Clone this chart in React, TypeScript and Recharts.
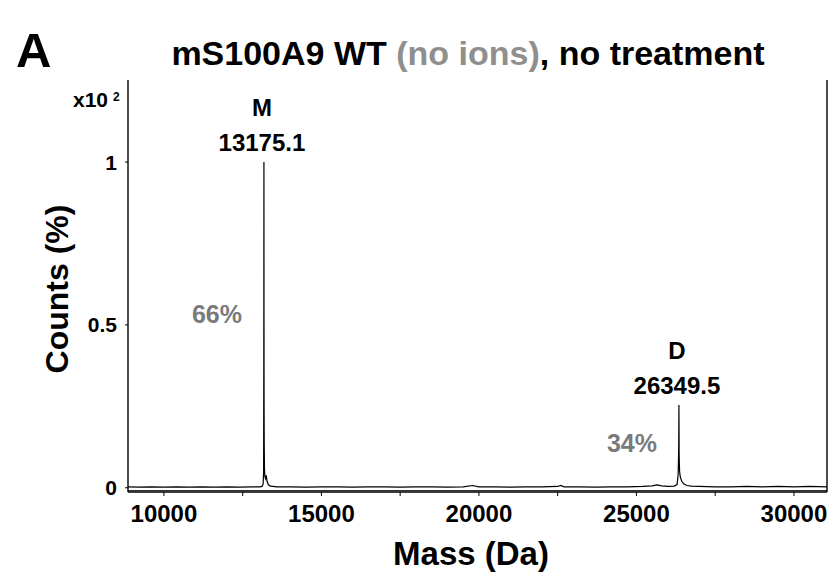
import React from 'react';
import { LineChart, Line, XAxis, YAxis, ReferenceDot, ReferenceLine } from 'recharts';

// Spectrum (deconvoluted mass, relative counts x10^2)
const masses = [
  8860, 9200, 9600, 10000, 10400, 10800, 11200, 11600, 12000, 12400, 12800, 13050,
  13120, 13150, 13165, 13171, 13175.1, 13179, 13184, 13192, 13205, 13225, 13250, 13275,
  13310, 13380, 13600, 14000, 14500, 15000, 15500, 16000, 16500, 17000, 17500, 18000,
  18500, 19000, 19500, 19800, 20000, 20500, 21000, 21500, 22000, 22500, 22600, 22700,
  23200, 23700, 24200, 24700, 25200, 25500, 25650, 25800, 26000, 26200, 26290, 26325,
  26342, 26349.5, 26356, 26370, 26395, 26440, 26500, 26600, 26750, 27000, 27500, 28000,
  28500, 29000, 29500, 30000, 30500, 31050,
];
const counts = [
  0.003, 0.002, 0.003, 0.002, 0.003, 0.002, 0.003, 0.002, 0.003, 0.002, 0.003, 0.003,
  0.005, 0.012, 0.05, 0.35, 1.0, 0.3, 0.137, 0.06, 0.035, 0.028, 0.038, 0.02,
  0.01, 0.005, 0.003, 0.003, 0.002, 0.003, 0.003, 0.002, 0.003, 0.003, 0.002, 0.003,
  0.003, 0.002, 0.003, 0.007, 0.003, 0.003, 0.002, 0.003, 0.003, 0.004, 0.007, 0.003,
  0.003, 0.002, 0.003, 0.003, 0.004, 0.006, 0.009, 0.006, 0.004, 0.005, 0.01, 0.04,
  0.12, 0.254, 0.1, 0.05, 0.032, 0.02, 0.012, 0.007, 0.005, 0.004, 0.003, 0.003,
  0.004, 0.003, 0.004, 0.003, 0.004, 0.003,
];

const xTicks = [10000, 12500, 15000, 17500, 20000, 22500, 25000, 27500, 30000];
const yTicks = [0, 0.5, 1];

const peakNames = ['M', 'D'];
const peakMasses = [13175.1, 26349.5];
const peakHeights = [1.0, 0.254];
const peakPercents = ['66%', '34%'];
const percentLevels = [0.505, 0.109];

const xDomain = [8860, 31050];
const yDomain = [-0.013, 1.252];

const spectrum = masses.map((m, i) => ({ mass: m, counts: counts[i] }));

const FONT = "'Liberation Sans', Arial, sans-serif";

export default function App() {
  return (
    <div style={{ position: 'absolute', left: 0, top: 0, width: 830, height: 576, background: '#fff' }}>
      <LineChart width={830} height={576} data={spectrum} margin={{ top: 80, right: 0, bottom: 0, left: 0 }}>
        <XAxis
          dataKey="mass"
          type="number"
          domain={xDomain}
          allowDataOverflow
          ticks={xTicks}
          interval={0}
          tickFormatter={(v: number) => (v % 5000 === 0 ? String(v) : '')}
          height={84}
          tickSize={4}
          tickMargin={9}
          axisLine={{ stroke: '#000', strokeWidth: 1.4 }}
          tickLine={{ stroke: '#000' }}
          tick={{ fontSize: 24, fontWeight: 'bold', fill: '#000', fontFamily: FONT }}
        />
        <XAxis
          xAxisId="top"
          orientation="top"
          type="number"
          domain={xDomain}
          allowDataOverflow
          height={0}
          tick={false}
          tickLine={false}
          axisLine={{ stroke: '#000', strokeWidth: 1.4 }}
        />
        <YAxis
          type="number"
          domain={yDomain}
          allowDataOverflow
          ticks={yTicks}
          interval={0}
          width={128}
          tickSize={3}
          tickMargin={8}
          axisLine={{ stroke: '#000', strokeWidth: 1.4 }}
          tickLine={{ stroke: '#000' }}
          tick={{ fontSize: 21, fontWeight: 'bold', fill: '#000', fontFamily: FONT }}
        />
        <YAxis
          yAxisId="right"
          orientation="right"
          type="number"
          domain={yDomain}
          allowDataOverflow
          width={3}
          tick={false}
          tickLine={false}
          axisLine={{ stroke: '#000', strokeWidth: 1.4 }}
        />
        <ReferenceLine y={-0.009} stroke="#000" strokeWidth={1} ifOverflow="extendDomain" />
        <Line
          type="linear"
          dataKey="counts"
          stroke="#000"
          strokeWidth={1.2}
          dot={false}
          isAnimationActive={false}
        />
        {peakMasses.map((m, i) => (
          <ReferenceDot
            key={'pk' + i}
            x={m}
            y={peakHeights[i]}
            r={0}
            ifOverflow="visible"
            shape={(p: any) => (
              <g fontFamily={FONT} fontWeight="bold" fill="#000" textAnchor="middle">
                <text x={p.cx - 2} y={p.cy - 46} fontSize={24}>{peakNames[i]}</text>
                <text x={p.cx - 2} y={p.cy - 11} fontSize={24}>{m.toFixed(1)}</text>
              </g>
            )}
          />
        ))}
        {peakMasses.map((m, i) => (
          <ReferenceDot
            key={'pc' + i}
            x={m}
            y={percentLevels[i]}
            r={0}
            ifOverflow="visible"
            shape={(p: any) => (
              <text
                x={p.cx - 47}
                y={p.cy}
                fontFamily={FONT}
                fontWeight="bold"
                fontSize={25}
                fill="#7a7a7a"
                textAnchor="middle"
              >
                {peakPercents[i]}
              </text>
            )}
          />
        ))}
      </LineChart>
      <svg
        width={830}
        height={576}
        style={{ position: 'absolute', left: 0, top: 0, pointerEvents: 'none' }}
      >
        <text x={16} y={67} fontFamily={FONT} fontWeight="bold" fontSize={49} fill="#000">A</text>
        <text x={468} y={65} fontFamily={FONT} fontWeight="bold" fontSize={34} fill="#000" textAnchor="middle">
          mS100A9 WT <tspan fill="#8f8f8f">(no ions)</tspan>, no treatment
        </text>
        <text x={73} y={107} fontFamily={FONT} fontWeight="bold" fontSize={21} fill="#000">
          x10<tspan fontSize={12} dx={5} dy={-6}>2</tspan>
        </text>
        <text
          x={68}
          y={289}
          transform="rotate(-90, 68, 289)"
          fontFamily={FONT}
          fontWeight="bold"
          fontSize={32}
          fill="#000"
          textAnchor="middle"
        >
          Counts (%)
        </text>
        <text x={471} y={565} fontFamily={FONT} fontWeight="bold" fontSize={33} fill="#000" textAnchor="middle">
          Mass (Da)
        </text>
      </svg>
    </div>
  );
}
